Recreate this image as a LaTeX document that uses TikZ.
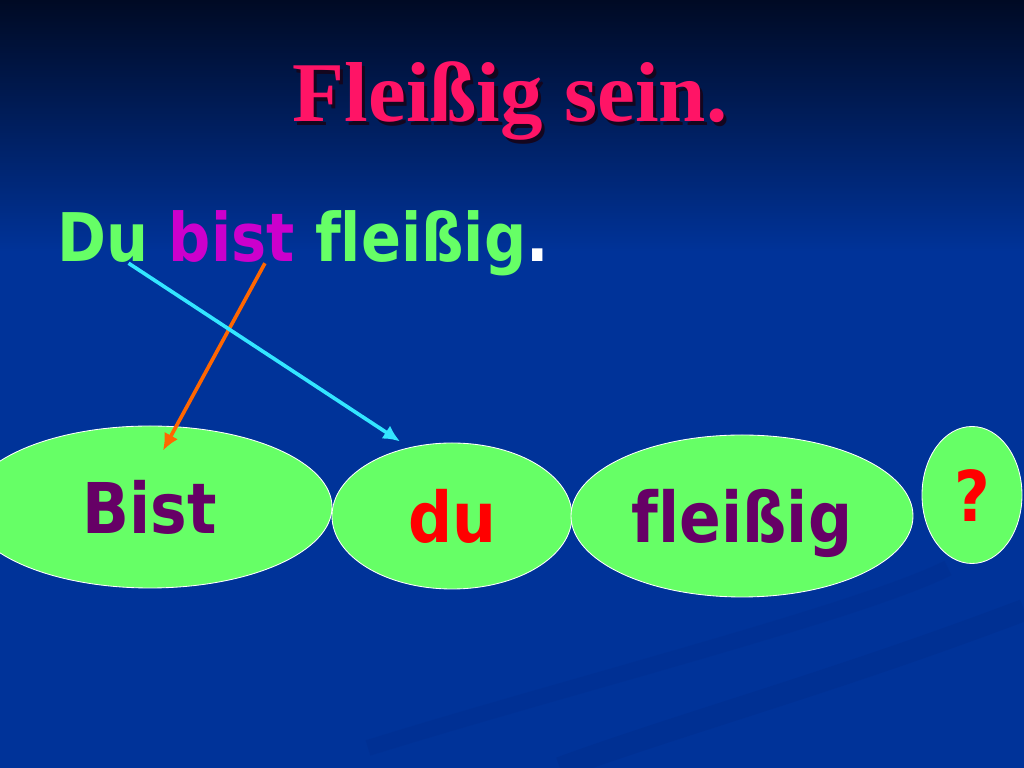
\documentclass[tikz,border=0pt]{standalone}
\usepackage{fontspec}
\setmainfont{Liberation Serif}
\newfontfamily\tahoma[FakeStretch=0.88,Ligatures=CommonOff]{DejaVu Sans}
\usepackage{tikz}
\usetikzlibrary{arrows,arrows.meta,calc,positioning,shapes.geometric}
\definecolor{bgblue}{HTML}{003399}
\definecolor{bgtop}{HTML}{000A24}
\definecolor{swoosh}{HTML}{002C8A}
\definecolor{titlered}{HTML}{FF1466}
\definecolor{titleshadow}{HTML}{14061E}
\definecolor{ovalgreen}{HTML}{66FF66}
\definecolor{wordpurple}{HTML}{660066}
\definecolor{wordmagenta}{HTML}{CC00CC}
\definecolor{arrowcyan}{HTML}{33E6FF}
\definecolor{arroworange}{HTML}{FF6600}
\newcommand{\shadowed}[1]{\makebox[0pt][l]{\kern0.08cm\raisebox{-0.08cm}{\textcolor{titleshadow}{#1}}}#1}
\tikzset{
  oval/.style={ellipse,draw=white,line width=0.6pt,fill=ovalgreen,inner sep=0pt,
    text height=1.35cm,text depth=0pt,font=\tahoma\bfseries\fontsize{49.8}{50}\selectfont},
  word/.style={inner sep=0pt,font=\tahoma\bfseries\fontsize{47.7}{48}\selectfont},
  headline/.style={anchor=base,inner sep=0pt,font=\bfseries\fontsize{60.5}{61}\selectfont},
  link/.style={line width=2.6pt,-{Latex[length=12pt,width=11pt]}},
}

\begin{document}
\begin{tikzpicture}
		\useasboundingbox (0,0) rectangle (25.6,19.2);
		% background
		\fill[bgblue] (0,0) rectangle (25.6,19.2);
		\shade[top color=bgtop,bottom color=bgblue] (0,12.9) rectangle (25.6,19.2);
		\draw[swoosh,line width=0.55cm,opacity=.4] (25.6,3.95) .. controls (21,2.2) and (17,1.1) .. (14,0);
		\draw[swoosh,line width=0.4cm,opacity=.3] (23.7,5.0) .. controls (21.5,3.9) and (14,2) .. (9.2,0.5);
		% title
		\node[headline,text=titlered] (t0) at (12.75,16.15) {\shadowed{Fleißig sein.}};
		% sentence
		\node[word,anchor=base west,text=ovalgreen] (w1) at (1.425,12.65) {Du};
		\node[word,base right=0.5cm of w1,text=wordmagenta] (w2) {bist};
		\node[word,base right=0.5cm of w2,text=ovalgreen] (w3) {fleißig\textcolor{white}{.}};
		% ovals
		\node[oval,minimum width=9.1cm,minimum height=4.05cm,text=wordpurple] (o1) at (3.75,6.525) {Bist};
		\node[oval,minimum width=6cm,minimum height=3.65cm,text=red] (o2) at (11.3,6.3) {du};
		\node[oval,minimum width=8.55cm,minimum height=4.05cm,text=wordpurple] (o3) at (18.55,6.3) {fleißig};
		\node[oval,minimum width=2.5cm,minimum height=3.425cm,text=red] (o4) at (24.3,6.825) {?};
		% arrows
		\coordinate[below right=0.625cm and 0.325cm of o1.north] (h1);
		\draw[link,arroworange] ([xshift=-0.75cm]w2.south east) to (h1);
		\draw[link,arrowcyan,shorten >=0.27cm] ([xshift=-0.5cm]w1.south east) to (o2.122);
	\end{tikzpicture}
\end{document}
